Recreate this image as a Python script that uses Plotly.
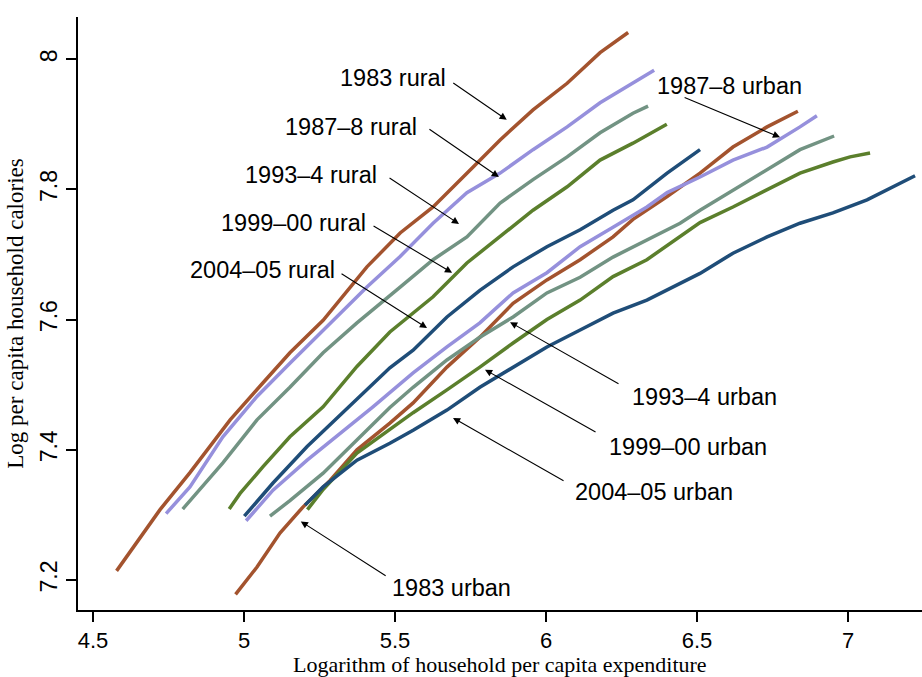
import plotly.graph_objects as go

# ---------------- data ----------------
r1983_x = [4.578, 4.722, 4.821, 4.954, 5.063, 5.152, 5.262, 5.407, 5.517, 5.626, 5.758, 5.848, 5.957, 6.070, 6.179, 6.272]
r1983_y = [7.214, 7.308, 7.365, 7.446, 7.503, 7.549, 7.599, 7.681, 7.733, 7.773, 7.834, 7.876, 7.922, 7.963, 8.010, 8.041]

r1987_x = [4.742, 4.821, 4.930, 5.043, 5.152, 5.262, 5.407, 5.517, 5.626, 5.738, 5.848, 5.957, 6.070, 6.179, 6.288, 6.358]
r1987_y = [7.302, 7.343, 7.420, 7.482, 7.533, 7.584, 7.650, 7.697, 7.748, 7.795, 7.825, 7.861, 7.896, 7.933, 7.963, 7.983]

r1993_x = [4.797, 4.930, 5.043, 5.152, 5.262, 5.374, 5.517, 5.626, 5.738, 5.848, 5.957, 6.070, 6.179, 6.288, 6.338]
r1993_y = [7.309, 7.380, 7.446, 7.496, 7.549, 7.595, 7.650, 7.692, 7.727, 7.779, 7.815, 7.850, 7.887, 7.917, 7.928]

r1999_x = [4.951, 4.987, 5.063, 5.152, 5.262, 5.374, 5.483, 5.626, 5.738, 5.848, 5.957, 6.070, 6.179, 6.288, 6.400]
r1999_y = [7.309, 7.333, 7.374, 7.420, 7.466, 7.528, 7.581, 7.635, 7.687, 7.727, 7.768, 7.804, 7.845, 7.871, 7.900]

r2004_x = [5.001, 5.096, 5.209, 5.374, 5.483, 5.560, 5.672, 5.781, 5.891, 6.003, 6.113, 6.222, 6.288, 6.401, 6.510]
r2004_y = [7.298, 7.349, 7.405, 7.477, 7.526, 7.553, 7.604, 7.645, 7.681, 7.712, 7.738, 7.768, 7.784, 7.825, 7.861]

u1983_x = [4.972, 5.043, 5.119, 5.195, 5.285, 5.374, 5.483, 5.560, 5.672, 5.781, 5.891, 6.003, 6.113, 6.222, 6.288, 6.401, 6.510, 6.619, 6.732, 6.834]
u1983_y = [7.178, 7.220, 7.272, 7.312, 7.353, 7.400, 7.441, 7.472, 7.527, 7.573, 7.625, 7.661, 7.692, 7.727, 7.754, 7.789, 7.825, 7.865, 7.896, 7.920]

u1987_x = [5.007, 5.096, 5.209, 5.318, 5.427, 5.560, 5.672, 5.781, 5.891, 6.003, 6.113, 6.222, 6.334, 6.401, 6.510, 6.619, 6.732, 6.841, 6.897]
u1987_y = [7.291, 7.338, 7.384, 7.425, 7.466, 7.518, 7.558, 7.595, 7.641, 7.672, 7.712, 7.742, 7.773, 7.795, 7.819, 7.845, 7.865, 7.896, 7.913]

u1993_x = [5.086, 5.152, 5.262, 5.374, 5.483, 5.560, 5.672, 5.781, 5.891, 6.003, 6.113, 6.222, 6.334, 6.444, 6.510, 6.619, 6.732, 6.841, 6.954]
u1993_y = [7.298, 7.322, 7.364, 7.415, 7.465, 7.496, 7.538, 7.573, 7.604, 7.641, 7.665, 7.696, 7.722, 7.748, 7.768, 7.799, 7.830, 7.861, 7.882]

u1999_x = [5.210, 5.262, 5.374, 5.450, 5.560, 5.672, 5.781, 5.891, 6.003, 6.113, 6.222, 6.334, 6.444, 6.510, 6.619, 6.732, 6.841, 6.950, 7.007, 7.073]
u1999_y = [7.308, 7.339, 7.395, 7.420, 7.457, 7.492, 7.527, 7.564, 7.600, 7.630, 7.666, 7.692, 7.727, 7.749, 7.773, 7.799, 7.825, 7.842, 7.850, 7.856]

u2004_x = [5.202, 5.262, 5.374, 5.483, 5.560, 5.672, 5.781, 5.891, 6.003, 6.113, 6.222, 6.334, 6.444, 6.510, 6.619, 6.732, 6.841, 6.950, 7.063, 7.172, 7.222]
u2004_y = [7.315, 7.343, 7.384, 7.410, 7.430, 7.461, 7.496, 7.527, 7.558, 7.584, 7.610, 7.630, 7.656, 7.671, 7.702, 7.727, 7.748, 7.764, 7.784, 7.810, 7.821]

# labels: text, text anchor point, arrow tail, arrow head
label_text = ["1983 rural", "1987\u20138 rural", "1993\u20134 rural", "1999\u201300 rural", "2004\u201305 rural",
              "1987\u20138 urban", "1993\u20134 urban", "1999\u201300 urban", "2004\u201305 urban", "1983 urban"]
label_x = [5.675, 5.579, 5.447, 5.411, 5.308, 6.361, 6.278, 6.202, 6.089, 5.483]
label_y = [7.971, 7.896, 7.822, 7.748, 7.676, 7.959, 7.481, 7.404, 7.335, 7.188]
label_side = ["right"] * 5 + ["left"] * 5
tail_x = [5.688, 5.609, 5.477, 5.424, 5.318, 6.454, 6.245, 6.169, 6.063, 5.474]
tail_y = [7.965, 7.894, 7.819, 7.745, 7.672, 7.942, 7.500, 7.426, 7.351, 7.205]
head_x = [5.870, 5.844, 5.712, 5.689, 5.606, 6.775, 5.881, 5.798, 5.692, 5.188]
head_y = [7.907, 7.819, 7.747, 7.672, 7.587, 7.880, 7.596, 7.523, 7.449, 7.290]

x_ticks = [4.5, 5, 5.5, 6, 6.5, 7]
x_tick_text = ["4.5", "5", "5.5", "6", "6.5", "7"]
y_ticks = [7.2, 7.4, 7.6, 7.8, 8]
y_tick_text = ["7.2", "7.4", "7.6", "7.8", "8"]

x_title = "Logarithm of household per capita expenditure"
y_title = "Log per capita household calories"

# ---------------- styling ----------------
BROWN = "#A3532E"
LAV = "#9690DC"
TEAL = "#729383"
OLIVE = "#5B7F2C"
NAVY = "#1F4D78"
SANS = "Liberation Sans, Arial, sans-serif"
SERIF = "Liberation Serif, Times New Roman, serif"

series = [
    (r1983_x, r1983_y, BROWN), (r1987_x, r1987_y, LAV), (r1993_x, r1993_y, TEAL),
    (r1999_x, r1999_y, OLIVE), (r2004_x, r2004_y, NAVY),
    (u1983_x, u1983_y, BROWN), (u1987_x, u1987_y, LAV), (u1993_x, u1993_y, TEAL),
    (u1999_x, u1999_y, OLIVE), (u2004_x, u2004_y, NAVY),
]

fig = go.Figure()
for xs, ys, col in series:
    fig.add_trace(go.Scatter(x=xs, y=ys, mode="lines",
                             line=dict(color=col, width=3.5), showlegend=False,
                             hoverinfo="skip"))

annotations = []
for i, t in enumerate(label_text):
    annotations.append(dict(x=label_x[i], y=label_y[i], xref="x", yref="y", text=t,
                            showarrow=False, xanchor=label_side[i], yanchor="middle",
                            font=dict(family=SANS, size=23.5, color="black")))
    annotations.append(dict(x=head_x[i], y=head_y[i], xref="x", yref="y",
                            ax=tail_x[i], ay=tail_y[i], axref="x", ayref="y",
                            text="", showarrow=True, arrowhead=2, arrowsize=1.3,
                            arrowwidth=1.1, arrowcolor="black", standoff=0, startstandoff=0))

# x-axis title placed just below the tick labels
annotations.append(dict(x=0.5, y=-0.0911, xref="paper", yref="paper", text=x_title,
                        showarrow=False, xanchor="center", yanchor="middle",
                        font=dict(family=SERIF, size=22, color="black")))

fig.update_layout(
    width=922, height=677,
    margin=dict(l=78, r=0, t=17, b=67),
    plot_bgcolor="white", paper_bgcolor="white",
    annotations=annotations,
    xaxis=dict(range=[4.4503, 7.245], tickvals=x_ticks, ticktext=x_tick_text, automargin=False,
               showgrid=False, zeroline=False, showline=True, linecolor="black", linewidth=2,
               ticks="outside", ticklen=10, tickwidth=2, tickcolor="black", ticklabelstandoff=0,
               tickfont=dict(family=SANS, size=22, color="black")),
    yaxis=dict(range=[7.1539, 8.0648], tickvals=y_ticks, ticktext=y_tick_text, automargin=False,
               showgrid=False, zeroline=False, showline=True, linecolor="black", linewidth=2,
               ticks="outside", ticklen=10, tickwidth=2, tickcolor="black", tickangle=-90,
               tickfont=dict(family=SANS, size=23, color="black"),
               title=dict(text=y_title, font=dict(family=SERIF, size=23, color="black"), standoff=6)),
)

fig.write_html("out.html")
